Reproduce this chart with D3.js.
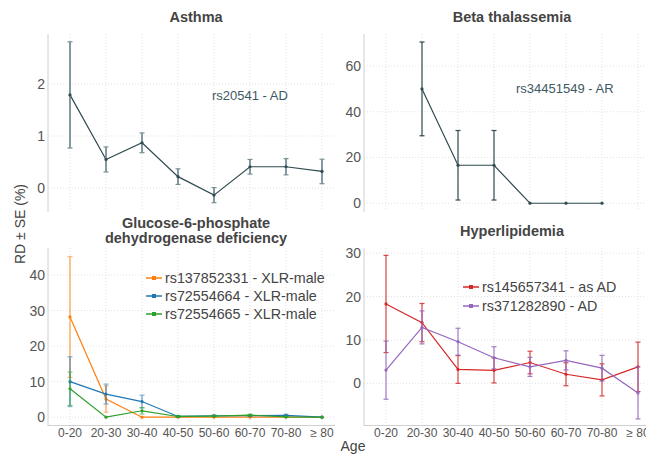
<!DOCTYPE html>
<html>
<head>
<meta charset="utf-8">
<style>
  body { margin: 0; background: #fff; }
  svg { font-family: "Liberation Sans", Arial, sans-serif; }
</style>
</head>
<body>
<svg width="646" height="454"></svg>
<script src="https://d3js.org/d3.v7.min.js"></script>
<script>
// age groups shared by all four panels
var ages = ["0-20", "20-30", "30-40", "40-50", "50-60", "60-70", "70-80", "\u2265 80"];

// Asthma
var asthmaRD = [1.79, 0.55, 0.87, 0.22, -0.135, 0.41, 0.41, 0.32];
var asthmaSE = [1.02, 0.24, 0.19, 0.15, 0.145, 0.14, 0.155, 0.235];

// Beta thalassemia
var betaRD = [null, 50, 16.6, 16.6, 0, 0, 0, null];
var betaSE = [null, 20.5, 15.2, 15.2, 0, 0, 0, null];

// G6PD deficiency
var g6pdOrangeRD = [28.2, 5.1, 0, 0, 0, 0, 0, 0];
var g6pdOrangeSE = [17, 3.7, 0, 0, 0, 0, 0, 0];
var g6pdBlueRD = [10, 6.5, 4.4, 0.2, 0.4, 0.4, 0.5, 0];
var g6pdBlueSE = [7, 2.8, 1.8, 0.2, 0.2, 0.2, 0.3, 0];
var g6pdGreenRD = [8, 0, 1.8, 0.2, 0.3, 0.6, 0.1, 0];
var g6pdGreenSE = [4.7, 0, 0.9, 0.2, 0.2, 0.2, 0.1, 0];

// Hyperlipidemia
var hyperRedRD = [18.3, 14, 3.2, 3.0, 4.8, 2.1, 0.8, 3.8];
var hyperRedSE = [11.2, 4.4, 3.2, 2.9, 2.6, 2.65, 3.7, 5.7];
var hyperPurpleRD = [3.05, 12.9, 9.6, 5.9, 3.8, 5.3, 3.5, -2.2];
var hyperPurpleSE = [6.7, 3.8, 3.1, 2.55, 2.2, 2.2, 2.95, 6.0];

var svg = d3.select("svg");

function panel(opt) {
  var g = svg.append("g");
  var x = d3.scalePoint().domain(ages).range([opt.left + 22, opt.left + 274]);
  var y = d3.scaleLinear().domain(opt.domain).range([opt.bottom, opt.top]);

  // grid
  g.selectAll(".vg").data(ages).enter().append("line")
    .attr("x1", function(d) { return x(d); }).attr("x2", function(d) { return x(d); })
    .attr("y1", opt.top).attr("y2", opt.bottom)
    .attr("stroke", "#e2e2e2").attr("stroke-dasharray", "1,2");
  g.selectAll(".hg").data(opt.ticks).enter().append("line")
    .attr("x1", opt.left).attr("x2", opt.left + 287)
    .attr("y1", function(d) { return y(d); }).attr("y2", function(d) { return y(d); })
    .attr("stroke", "#e2e2e2").attr("stroke-dasharray", "1,2");

  // axis lines
  g.append("line").attr("x1", opt.left).attr("x2", opt.left)
    .attr("y1", opt.top).attr("y2", opt.bottom + 1)
    .attr("stroke", "#d0d0d0");
  if (opt.xLabels) {
    g.append("line").attr("x1", opt.left).attr("x2", opt.left + 287)
      .attr("y1", opt.bottom + 0.5).attr("y2", opt.bottom + 0.5)
      .attr("stroke", "#d0d0d0");
    g.selectAll(".xt").data(ages).enter().append("text")
      .attr("x", function(d) { return x(d); }).attr("y", opt.bottom + 12)
      .attr("text-anchor", "middle").attr("font-size", 12).attr("fill", "#555")
      .text(function(d) { return d; });
  }

  // y tick labels
  g.selectAll(".yt").data(opt.ticks).enter().append("text")
    .attr("x", opt.left - 3).attr("y", function(d) { return y(d) + 5; })
    .attr("text-anchor", "end").attr("font-size", 14).attr("fill", "#555")
    .text(function(d) { return d; });

  // title
  var t = g.append("text").attr("x", opt.left + 148).attr("y", opt.titleY)
    .attr("text-anchor", "middle").attr("font-size", 14.5).attr("font-weight", "bold")
    .attr("fill", "#444");
  opt.title.forEach(function(line, i) {
    t.append("tspan").attr("x", opt.left + 148).attr("dy", i ? 15 : 0).text(line);
  });

  opt.series.forEach(function(s) {
    var pts = ages.map(function(a, i) { return {a: a, v: s.rd[i], e: s.se[i]}; })
      .filter(function(p) { return p.v !== null; });

    var line = d3.line().x(function(p) { return x(p.a); }).y(function(p) { return y(p.v); });
    g.append("path").datum(pts).attr("d", line)
      .attr("fill", "none").attr("stroke", s.color).attr("stroke-width", 1.2);

    var eb = g.append("g").attr("stroke", s.errColor).attr("opacity", s.errOpacity);
    pts.forEach(function(p) {
      if (!p.e) return;
      var cx = x(p.a);
      eb.append("line").attr("x1", cx).attr("x2", cx)
        .attr("y1", y(p.v - p.e)).attr("y2", y(p.v + p.e)).attr("stroke-width", s.errWidth || 1.2);
      [p.v - p.e, p.v + p.e].forEach(function(v) {
        eb.append("line").attr("x1", cx - 2.5).attr("x2", cx + 2.5)
          .attr("y1", y(v)).attr("y2", y(v)).attr("stroke-width", 1.2);
      });
    });

    g.selectAll(null).data(pts).enter().append("circle")
      .attr("cx", function(p) { return x(p.a); }).attr("cy", function(p) { return y(p.v); })
      .attr("r", 1.6).attr("fill", s.color);
  });

  if (opt.note) {
    g.append("text").attr("x", opt.note.x).attr("y", opt.note.y)
      .attr("font-size", 13).attr("fill", "#3e5862").text(opt.note.text);
  }

  if (opt.legend) {
    opt.series.forEach(function(s, i) {
      var ly = opt.legend.y + i * opt.legend.step;
      g.append("line").attr("x1", opt.legend.x).attr("x2", opt.legend.x + 16)
        .attr("y1", ly).attr("y2", ly).attr("stroke", s.color).attr("stroke-width", 1.5);
      g.append("rect").attr("x", opt.legend.x + 6).attr("y", ly - 2)
        .attr("width", 4).attr("height", 4).attr("fill", s.color);
      g.append("text").attr("x", opt.legend.x + 19).attr("y", ly + 5)
        .attr("font-size", 14.3).attr("fill", "#444").text(s.name);
    });
  }
}

panel({
  left: 48, top: 34, bottom: 211, domain: [-0.44, 2.96], ticks: [0, 1, 2],
  title: ["Asthma"], titleY: 22, xLabels: false,
  note: {x: 212, y: 100, text: "rs20541 - AD"},
  series: [{rd: asthmaRD, se: asthmaSE, color: "#2f4a50", errColor: "#788f96", errOpacity: 1, errWidth: 1.8}]
});

panel({
  left: 364, top: 34, bottom: 211, domain: [-3.4, 74], ticks: [0, 20, 40, 60],
  title: ["Beta thalassemia"], titleY: 22, xLabels: false,
  note: {x: 516, y: 93, text: "rs34451549 - AR"},
  series: [{rd: betaRD, se: betaSE, color: "#2f4a50", errColor: "#2f4a50", errOpacity: 1}]
});

panel({
  left: 48, top: 248, bottom: 425, domain: [-2.2, 47.6], ticks: [0, 10, 20, 30, 40],
  title: ["Glucose-6-phosphate", "dehydrogenase deficiency"], titleY: 228, xLabels: true,
  legend: {x: 146, y: 278, step: 18},
  series: [
    {name: "rs137852331 - XLR-male", rd: g6pdOrangeRD, se: g6pdOrangeSE, color: "#ff7f0e", errColor: "#ff7f0e", errOpacity: 0.55, errWidth: 1.6},
    {name: "rs72554664 - XLR-male", rd: g6pdBlueRD, se: g6pdBlueSE, color: "#1f77b4", errColor: "#1f77b4", errOpacity: 0.55, errWidth: 1.6},
    {name: "rs72554665 - XLR-male", rd: g6pdGreenRD, se: g6pdGreenSE, color: "#2ca02c", errColor: "#2ca02c", errOpacity: 0.55, errWidth: 1.6}
  ]
});

panel({
  left: 364, top: 248, bottom: 425, domain: [-9.6, 31.2], ticks: [0, 10, 20, 30],
  title: ["Hyperlipidemia"], titleY: 236, xLabels: true,
  legend: {x: 463, y: 287, step: 19},
  series: [
    {name: "rs145657341 - as AD", rd: hyperRedRD, se: hyperRedSE, color: "#d62728", errColor: "#d62728", errOpacity: 0.85},
    {name: "rs371282890 - AD", rd: hyperPurpleRD, se: hyperPurpleSE, color: "#9467bd", errColor: "#9467bd", errOpacity: 0.85}
  ]
});

// shared axis titles
svg.append("text").attr("transform", "translate(25,224) rotate(-90)")
  .attr("text-anchor", "middle").attr("font-size", 14).attr("fill", "#444")
  .text("RD \u00b1 SE (%)");
svg.append("text").attr("x", 353).attr("y", 451)
  .attr("text-anchor", "middle").attr("font-size", 14).attr("fill", "#444")
  .text("Age");
</script>
</body>
</html>
